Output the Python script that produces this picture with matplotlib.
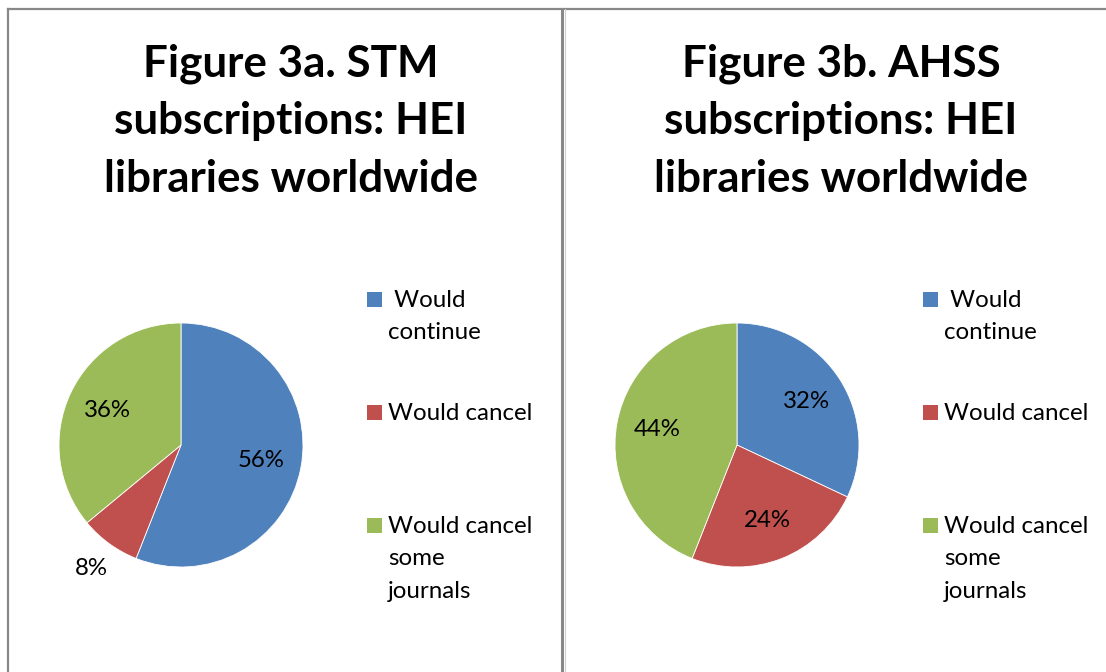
import matplotlib
matplotlib.use("Agg")
import matplotlib.pyplot as plt
from matplotlib.patches import Rectangle
from matplotlib.lines import Line2D
import numpy as np

categories = ["Would continue", "Would cancel", "Would cancel some journals"]
legend_labels = [" Would\ncontinue", "Would cancel", "Would cancel\nsome\njournals"]
stm_values = [56, 8, 36]
ahss_values = [32, 24, 44]
titles = ["Figure 3a. STM\nsubscriptions: HEI\nlibraries worldwide",
          "Figure 3b. AHSS\nsubscriptions: HEI\nlibraries worldwide"]
colors = ["#4F81BD", "#C0504D", "#9BBB59"]

W, H = 1106, 672
fig = plt.figure(figsize=(W / 100, H / 100), dpi=100)
FONT = "Lato"

def fx(px):
    return px / W

def fy(py):
    return 1 - py / H

# panel borders
fig.add_artist(Line2D([fx(8), 1], [fy(9), fy(9)], color="#888888", lw=1.6))
fig.add_artist(Line2D([fx(8), fx(8)], [fy(9), 0], color="#888888", lw=1.6))
fig.add_artist(Line2D([fx(562), fx(562)], [fy(9), 0], color="#888888", lw=2.2))
fig.add_artist(Line2D([fx(564.5), fx(564.5)], [fy(9), 0], color="#d0d0d0", lw=0.8))

panels = [
    dict(values=stm_values, title=titles[0], cx=181, title_x=291, leg_x=367),
    dict(values=ahss_values, title=titles[1], cx=737, title_x=841, leg_x=923),
]
cy, R = 445, 122

for p in panels:
    ax = fig.add_axes([fx(p["cx"] - R), fy(cy + R), fx(2 * R), 2 * R / H])
    wedges, texts, autotexts = ax.pie(
        p["values"], colors=colors, startangle=90, counterclock=False,
        autopct=lambda v: f"{v:.0f}%", pctdistance=0.67,
        wedgeprops=dict(edgecolor="white", linewidth=0.6),
        textprops=dict(fontsize=17.3, family=FONT, color="black"))
    for w, t, v in zip(wedges, autotexts, p["values"]):
        if v < 10:
            ang = np.deg2rad((w.theta1 + w.theta2) / 2)
            t.set_position((1.25 * np.cos(ang), 1.25 * np.sin(ang)))
    ax.set_xlim(-1, 1)
    ax.set_ylim(-1, 1)
    ax.set_aspect("equal")
    ax.axis("off")

    fig.text(fx(p["title_x"]), fy(121), p["title"], ha="center", va="center",
             fontsize=31.7, fontweight="bold", family=FONT, linespacing=1.53)

    # legend
    sq = 15
    leg_tops = [292, 405, 518]
    for col, lab, top in zip(colors, legend_labels, leg_tops):
        fig.add_artist(Rectangle((fx(p["leg_x"]), fy(top + sq)), fx(sq), sq / H,
                                 facecolor=col, edgecolor="none"))
        fig.text(fx(p["leg_x"] + 21), fy(top - 2), lab, ha="left", va="top",
                 fontsize=17.4, family=FONT, linespacing=1.67)

fig.savefig("out.png", dpi=100)
